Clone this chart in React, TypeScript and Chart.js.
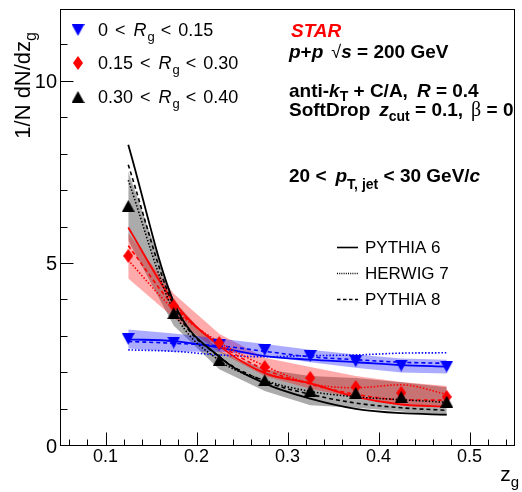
import { useEffect, useRef } from 'react';
import { Chart, registerables } from 'chart.js';

Chart.register(...registerables);

// ---------------- data ----------------
const ZG = [0.125, 0.175, 0.225, 0.275, 0.325, 0.375, 0.425, 0.475];

// STAR data, three Rg bins
const DATA_LOW = [2.94, 2.84, 2.77, 2.64, 2.47, 2.33, 2.21, 2.18]; // 0 < Rg < 0.15
const SYS_LOW = [0.26, 0.25, 0.18, 0.16, 0.17, 0.18, 0.19, 0.19];
const DATA_MID = [5.22, 3.85, 2.83, 2.17, 1.87, 1.62, 1.46, 1.35]; // 0.15 < Rg < 0.30
const SYS_MID = [0.62, 0.33, 0.25, 0.25, 0.3, 0.3, 0.3, 0.3];
const DATA_HIGH = [6.59, 3.65, 2.36, 1.81, 1.52, 1.46, 1.35, 1.22]; // 0.30 < Rg < 0.40
const SYS_HIGH = [0.95, 0.35, 0.25, 0.3, 0.4, 0.41, 0.4, 0.39];

// MC curves
const P6_HIGH = [8.27, 3.95, 2.45, 1.72, 1.3, 1.02, 0.9, 0.86];
const P8_HIGH = [7.72, 3.85, 2.45, 1.78, 1.42, 1.18, 1.05, 0.98];
const H7_HIGH = [7.3, 3.7, 2.35, 1.8, 1.5, 1.35, 1.27, 1.2];
const P6_MID = [6.0, 3.95, 2.75, 2.0, 1.72, 1.35, 1.14, 1.08];
const P8_MID = [5.5, 3.85, 2.8, 2.1, 1.7, 1.42, 1.27, 1.26];
const H7_MID = [5.1, 3.75, 2.85, 2.2, 1.72, 1.6, 1.68, 1.42];
const P6_LOW = [2.93, 2.88, 2.7, 2.47, 2.37, 2.3, 2.22, 2.18];
const P8_LOW = [2.87, 2.82, 2.75, 2.6, 2.45, 2.37, 2.3, 2.27];
const H7_LOW = [2.64, 2.6, 2.5, 2.45, 2.48, 2.5, 2.55, 2.56];

// axes
const X_MIN = 0.05;
const X_MAX = 0.55;
const Y_MIN = 0;
const Y_MAX = 12;
const X_MAJOR = [0.1, 0.2, 0.3, 0.4, 0.5];
const X_LABELS = ['0.1', '0.2', '0.3', '0.4', '0.5'];
const X_MINOR = [0.06, 0.08, 0.12, 0.14, 0.16, 0.18, 0.22, 0.24, 0.26, 0.28, 0.32, 0.34, 0.36, 0.38, 0.42, 0.44, 0.46, 0.48, 0.52, 0.54];
const Y_MAJOR = [0, 5, 10];
const Y_LABELS = ['0', '5', '10'];
const Y_MINOR = [1, 2, 3, 4, 6, 7, 8, 9, 11];

const MC_NAMES = ['PYTHIA 6', 'HERWIG 7', 'PYTHIA 8'];

// ---------------- helpers ----------------
const FF = '"Liberation Sans", Arial, Helvetica, sans-serif';
const BLUE = '#0000ff';
const RED = '#ff0000';
const BLACK = '#000000';

type Seg = { t: string; f: string; dy?: number; c?: string; gap?: number };

function drawRich(ctx: CanvasRenderingContext2D, x: number, y: number, segs: Seg[], align: 'left' | 'right' = 'left') {
  let w = 0;
  for (const s of segs) {
    ctx.font = s.f;
    w += ctx.measureText(s.t).width + (s.gap || 0);
  }
  let cx = align === 'right' ? x - w : x;
  for (const s of segs) {
    ctx.font = s.f;
    cx += s.gap || 0;
    ctx.fillStyle = s.c || '#000';
    ctx.fillText(s.t, cx, y + (s.dy || 0));
    cx += ctx.measureText(s.t).width;
  }
}

function makeMarker(kind: 'down' | 'up' | 'diamond', color: string): HTMLCanvasElement {
  const c = document.createElement('canvas');
  let w = 13;
  let h = 12;
  if (kind === 'diamond') {
    w = 10;
    h = 14;
  }
  c.width = w;
  c.height = h;
  const g = c.getContext('2d')!;
  g.fillStyle = color;
  g.beginPath();
  if (kind === 'down') {
    g.moveTo(0, 0);
    g.lineTo(w, 0);
    g.lineTo(w / 2, h);
  } else if (kind === 'up') {
    g.moveTo(0, h);
    g.lineTo(w, h);
    g.lineTo(w / 2, 0);
  } else {
    g.moveTo(w / 2, 0);
    g.lineTo(w, h / 2);
    g.lineTo(w / 2, h);
    g.lineTo(0, h / 2);
  }
  g.closePath();
  g.fill();
  return c;
}

const pts = (ys: number[]) => ZG.map((x, i) => ({ x, y: ys[i] }));
const ptsOff = (ys: number[], e: number[], s: number) => ZG.map((x, i) => ({ x, y: ys[i] + s * e[i] }));

export default function App() {
  const ref = useRef<HTMLCanvasElement | null>(null);

  useEffect(() => {
    const canvas = ref.current;
    if (!canvas) return;

    const mDown = makeMarker('down', BLUE);
    const mDiamond = makeMarker('diamond', RED);
    const mUp = makeMarker('up', BLACK);

    const markerDs = (label: string, ys: number[], img: HTMLCanvasElement) => ({
      label,
      data: pts(ys),
      showLine: false,
      pointStyle: img,
      pointRadius: 6,
      borderColor: 'rgba(0,0,0,0)',
      backgroundColor: 'rgba(0,0,0,0)',
      order: 0,
    });

    const mcDs = (label: string, ys: number[], color: string, kind: number) => ({
      label,
      data: pts(ys),
      borderColor: color,
      borderWidth: kind === 0 ? 1.8 : 1.6,
      borderDash: kind === 0 ? [] : kind === 1 ? [1.5, 1.8] : [4, 3],
      pointRadius: 0,
      fill: false,
      cubicInterpolationMode: 'monotone' as const,
      order: 1,
    });

    const datasets: any[] = [
      markerDs('0.30 < Rg < 0.40', DATA_HIGH, mUp),
      markerDs('0.15 < Rg < 0.30', DATA_MID, mDiamond),
      markerDs('0 < Rg < 0.15', DATA_LOW, mDown),
      mcDs('PYTHIA 6 high', P6_HIGH, BLACK, 0),
      mcDs('HERWIG 7 high', H7_HIGH, BLACK, 1),
      mcDs('PYTHIA 8 high', P8_HIGH, BLACK, 2),
      mcDs('PYTHIA 6 mid', P6_MID, RED, 0),
      mcDs('HERWIG 7 mid', H7_MID, RED, 1),
      mcDs('PYTHIA 8 mid', P8_MID, RED, 2),
      mcDs('PYTHIA 6 low', P6_LOW, BLUE, 0),
      mcDs('HERWIG 7 low', H7_LOW, BLUE, 1),
      mcDs('PYTHIA 8 low', P8_LOW, BLUE, 2),
    ];

    const addBand = (ys: number[], e: number[], color: string) => {
      const upIdx = datasets.length;
      datasets.push({
        label: 'band-up',
        data: ptsOff(ys, e, 1),
        borderColor: 'rgba(0,0,0,0)',
        borderWidth: 0,
        pointRadius: 0,
        fill: false,
        tension: 0,
        order: 2,
      });
      datasets.push({
        label: 'band-lo',
        data: ptsOff(ys, e, -1),
        borderColor: 'rgba(0,0,0,0)',
        borderWidth: 0,
        pointRadius: 0,
        fill: upIdx,
        backgroundColor: color,
        tension: 0,
        order: 2,
      });
    };
    addBand(DATA_LOW, SYS_LOW, 'rgba(0,0,255,0.33)');
    addBand(DATA_MID, SYS_MID, 'rgba(255,0,0,0.33)');
    addBand(DATA_HIGH, SYS_HIGH, 'rgba(0,0,0,0.33)');

    const decor = {
      id: 'decor',
      afterDraw(chart: any) {
        const ctx: CanvasRenderingContext2D = chart.ctx;
        const a = chart.chartArea;
        const xs = chart.scales.x;
        const ysc = chart.scales.y;
        ctx.save();
        ctx.textBaseline = 'alphabetic';

        // frame
        ctx.strokeStyle = '#000';
        ctx.lineWidth = 1;
        ctx.strokeRect(Math.round(a.left) + 0.5, Math.round(a.top) + 0.5, Math.round(a.right - a.left) - 1, Math.round(a.bottom - a.top) - 1);

        // ticks
        ctx.beginPath();
        const L = Math.round(a.left) + 0.5;
        const B = Math.round(a.bottom) - 0.5;
        for (const v of Y_MAJOR) {
          const p = Math.round(ysc.getPixelForValue(v)) - 0.5;
          ctx.moveTo(L, p);
          ctx.lineTo(L + 13, p);
        }
        for (const v of Y_MINOR) {
          const p = Math.round(ysc.getPixelForValue(v)) - 0.5;
          ctx.moveTo(L, p);
          ctx.lineTo(L + 7, p);
        }
        for (const v of X_MAJOR) {
          const p = Math.round(xs.getPixelForValue(v)) + 0.5;
          ctx.moveTo(p, B);
          ctx.lineTo(p, B - 13);
        }
        for (const v of X_MINOR) {
          const p = Math.round(xs.getPixelForValue(v)) + 0.5;
          ctx.moveTo(p, B);
          ctx.lineTo(p, B - 6);
        }
        ctx.stroke();

        // tick labels
        ctx.fillStyle = '#000';
        ctx.font = `20px ${FF}`;
        ctx.textAlign = 'right';
        ctx.textBaseline = 'middle';
        Y_MAJOR.forEach((v, i) => {
          ctx.fillText(Y_LABELS[i], a.left - 3, ysc.getPixelForValue(v) + 1);
        });
        ctx.font = `18px ${FF}`;
        ctx.textAlign = 'center';
        X_MAJOR.forEach((v, i) => {
          ctx.fillText(X_LABELS[i], xs.getPixelForValue(v), 457);
        });
        ctx.textAlign = 'left';
        ctx.textBaseline = 'alphabetic';

        // axis titles
        drawRich(ctx, 519, 481, [
          { t: 'z', f: `21px ${FF}` },
          { t: 'g', f: `15px ${FF}`, dy: 6 },
        ], 'right');
        ctx.save();
        ctx.translate(30, 32);
        ctx.rotate(-Math.PI / 2);
        drawRich(ctx, 0, 0, [
          { t: '1/N dN/dz', f: `22px ${FF}` },
          { t: 'g', f: `16px ${FF}`, dy: 6 },
        ], 'right');
        ctx.restore();

        // legend for data
        const N = `18px ${FF}`;
        const I = `italic 18px ${FF}`;
        const S = `13px ${FF}`;
        const rows: [HTMLCanvasElement, string, string][] = [
          [mDown, '0', '0.15'],
          [mDiamond, '0.15', '0.30'],
          [mUp, '0.30', '0.40'],
        ];
        const rowY = [30, 63, 97];
        rows.forEach((r, i) => {
          const img = r[0];
          ctx.drawImage(img, 78 - img.width / 2, rowY[i] - img.height / 2);
          drawRich(ctx, 98, rowY[i] + 6, [
            { t: r[1], f: N },
            { t: '<', f: N, gap: 7 },
            { t: 'R', f: I, gap: 8 },
            { t: 'g', f: S, dy: 5, gap: 1 },
            { t: '<', f: N, gap: 6 },
            { t: r[2], f: N, gap: 7 },
          ]);
        });

        // STAR labels
        const Bd = `bold 19px ${FF}`;
        const BI = `italic bold 19px ${FF}`;
        const BS = `bold 14px ${FF}`;
        drawRich(ctx, 291, 37, [{ t: 'STAR', f: BI, c: RED }]);
        drawRich(ctx, 289, 58, [
          { t: 'p', f: BI },
          { t: '+', f: Bd },
          { t: 'p', f: BI },
          { t: '\u221A', f: `18px ${FF}`, gap: 8 },
          { t: 's', f: BI },
          { t: ' = 200 GeV', f: Bd },
        ]);
        drawRich(ctx, 289, 97, [
          { t: 'anti-', f: Bd },
          { t: 'k', f: BI },
          { t: 'T', f: BS, dy: 4 },
          { t: ' + C/A,', f: Bd },
          { t: 'R', f: BI, gap: 9 },
          { t: ' = 0.4', f: Bd },
        ]);
        drawRich(ctx, 289, 116, [
          { t: 'SoftDrop', f: Bd },
          { t: 'z', f: BI, gap: 9 },
          { t: 'cut', f: BS, dy: 5 },
          { t: ' = 0.1,', f: Bd },
          { t: '\u03B2', f: `20px "Liberation Serif", "DejaVu Serif", serif`, gap: 8 },
          { t: ' = 0', f: Bd },
        ]);
        drawRich(ctx, 289, 182, [
          { t: '20 <', f: Bd },
          { t: 'p', f: BI, gap: 9 },
          { t: 'T, jet', f: BS, dy: 7 },
          { t: ' < 30 GeV/', f: Bd },
          { t: 'c', f: BI },
        ]);

        // MC legend
        const lineY = [247, 273, 299];
        MC_NAMES.forEach((name, i) => {
          ctx.beginPath();
          ctx.strokeStyle = '#000';
          ctx.lineWidth = i === 0 ? 1.6 : 1.3;
          ctx.setLineDash(i === 0 ? [] : i === 1 ? [1, 1.2] : [3.5, 2.5]);
          ctx.moveTo(337, lineY[i] + 0.5);
          ctx.lineTo(358, lineY[i] + 0.5);
          ctx.stroke();
          ctx.setLineDash([]);
          drawRich(ctx, 365, lineY[i] + 6, [{ t: name, f: `17px ${FF}` }]);
        });

        ctx.restore();
      },
    };

    const chart = new Chart(canvas, {
      type: 'line',
      data: { datasets },
      options: {
        responsive: false,
        animation: false,
        events: [],
        layout: { padding: { left: 60, right: 2, top: 9, bottom: 46 } },
        scales: {
          x: { type: 'linear', min: X_MIN, max: X_MAX, display: false },
          y: { type: 'linear', min: Y_MIN, max: Y_MAX, display: false },
        },
        plugins: {
          legend: { display: false },
          tooltip: { enabled: false },
          filler: { propagate: false },
        },
      },
      plugins: [decor],
    });

    return () => chart.destroy();
  }, []);

  return (
    <div style={{ position: 'fixed', left: 0, top: 0, width: 522, height: 492, background: '#fff' }}>
      <canvas ref={ref} width={522} height={492} style={{ width: 522, height: 492, display: 'block' }} />
    </div>
  );
}
